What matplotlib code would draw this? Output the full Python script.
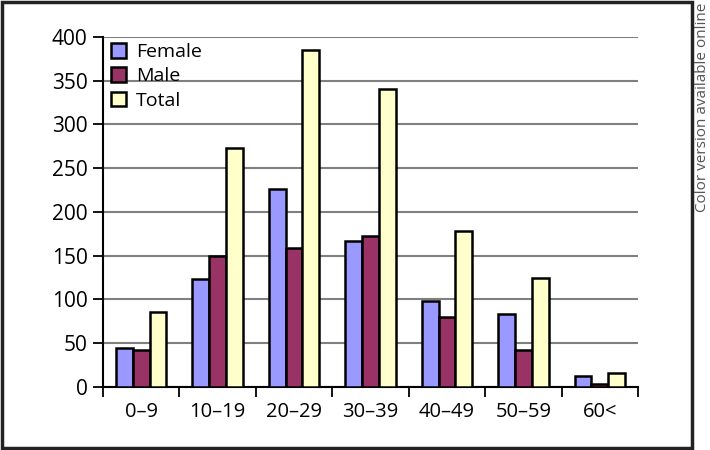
import matplotlib.pyplot as plt
import matplotlib.patches as patches
import numpy as np

plt.rcParams['font.family'] = ['Open Sans', 'DejaVu Sans']

# Data
age_groups = ['0\u20139', '10\u201319', '20\u201329', '30\u201339', '40\u201349', '50\u201359', '60<']
female = [44, 123, 226, 167, 98, 83, 13]
male = [42, 150, 159, 173, 80, 42, 3]
total = [86, 273, 385, 340, 178, 125, 16]

fig = plt.figure(figsize=(7.1, 4.5), dpi=100)
ax = fig.add_axes([0.1451, 0.14, 0.7535, 0.7778])

x = np.arange(len(age_groups))
w = 0.22
ax.bar(x - w, female, w, color='#9999FF', edgecolor='black', linewidth=1.8, label='Female', zorder=3)
ax.bar(x, male, w, color='#993366', edgecolor='black', linewidth=1.8, label='Male', zorder=3)
ax.bar(x + w, total, w, color='#FFFFCC', edgecolor='black', linewidth=1.8, label='Total', zorder=3)

ax.set_xlim(-0.5, len(age_groups) - 0.5)
ax.set_ylim(0, 400)
ax.set_yticks(np.arange(0, 401, 50))
ax.yaxis.grid(True, color='#808080', linewidth=1.5, zorder=0)
ax.tick_params(axis='y', labelsize=15, length=7, width=1.3, direction='out', pad=4)

# category boundaries carry the ticks, labels sit in the middle
ax.set_xticks(np.arange(-0.5, len(age_groups), 1.0))
ax.set_xticklabels([])
ax.set_xticks(x, minor=True)
ax.set_xticklabels(age_groups, minor=True)
ax.tick_params(axis='x', which='major', length=7, width=1.3, direction='out')
ax.tick_params(axis='x', which='minor', length=0, labelsize=14.5, pad=11)

for s in ['top', 'right']:
    ax.spines[s].set_visible(False)
for s in ['left', 'bottom']:
    ax.spines[s].set_linewidth(1.5)

ax.legend(loc='upper left', frameon=False, fontsize=14, handlelength=0.8, handleheight=0.8,
          handletextpad=0.5, labelspacing=0.32, borderaxespad=0.0, bbox_to_anchor=(0.0, 1.006))

# outer frame
fig.patches.append(patches.Rectangle((0.003, 0.004), 0.972, 0.992, transform=fig.transFigure,
                                     fill=False, edgecolor='#222222', linewidth=2.5))
fig.text(0.99, 0.995, 'Color version available online', rotation=90, ha='center', va='top',
         fontsize=11, color='#555555')

plt.savefig('out.png', dpi=100)
